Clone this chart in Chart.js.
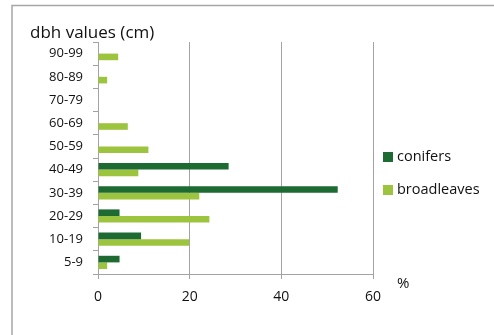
<!DOCTYPE html>
<html>
<head>
<meta charset="utf-8">
<title>dbh distribution</title>
<script src="https://cdn.jsdelivr.net/npm/chart.js"></script>
<style>
  html, body { margin: 0; padding: 0; background: #fff; }
  #wrap { position: relative; width: 494px; height: 335px; }
</style>
</head>
<body>
<div id="wrap"><canvas id="dbhChart" width="494" height="335"></canvas></div>
<script>
// dbh classes, listed top to bottom
const dbhClasses = ['90-99', '80-89', '70-79', '60-69', '50-59', '40-49', '30-39', '20-29', '10-19', '5-9'];
// share of trees (%) per class
const conifers    = [0, 0, 0, 0, 0, 28.5, 52.3, 4.7, 9.4, 4.7];
const broadleaves = [4.4, 2.0, 0, 6.5, 11.0, 8.8, 22.1, 24.3, 19.9, 2.0];
const xTicks = [0, 20, 40, 60];

const darkGreen = '#1d6a32';
const lightGreen = '#9dc43f';
const gridGrey = '#a3a3a3';
const textColor = '#111';
const fontFamily = '"Open Sans", sans-serif';

// frame, axis captions and legend drawn around the plot
const decorations = {
  id: 'decorations',
  afterDraw(chart) {
    const ctx = chart.ctx;
    ctx.save();
    ctx.strokeStyle = '#a6a6a6';
    ctx.lineWidth = 1.5;
    ctx.beginPath();
    ctx.moveTo(12, 340);
    ctx.lineTo(12, 5.5);
    ctx.lineTo(500, 5.5);
    ctx.stroke();

    ctx.fillStyle = textColor;
    ctx.textBaseline = 'middle';
    ctx.textAlign = 'left';
    ctx.font = '17px ' + fontFamily;
    ctx.fillText('dbh values (cm)', 30, 33);
    ctx.font = '15px ' + fontFamily;
    ctx.fillText('%', 397, 284);

    ctx.font = '14.5px ' + fontFamily;
    chart.data.datasets.forEach((ds, i) => {
      const y = 157 + i * 33;
      ctx.fillStyle = ds.backgroundColor;
      ctx.fillRect(383, y - 5, 10, 10);
      ctx.fillStyle = textColor;
      ctx.fillText(ds.label, 397, y);
    });
    ctx.restore();
  }
};

new Chart(document.getElementById('dbhChart'), {
  type: 'bar',
  data: {
    labels: dbhClasses,
    datasets: [
      { label: 'conifers', data: conifers, backgroundColor: darkGreen },
      { label: 'broadleaves', data: broadleaves, backgroundColor: lightGreen }
    ]
  },
  options: {
    indexAxis: 'y',
    responsive: false,
    animation: false,
    layout: { padding: { left: 0, right: 121, top: 42, bottom: 0 } },
    datasets: { bar: { categoryPercentage: 0.57, barPercentage: 1.0 } },
    plugins: {
      legend: { display: false },
      tooltip: { enabled: false }
    },
    scales: {
      x: {
        min: 0,
        max: 60,
        afterBuildTicks: (scale) => { scale.ticks = xTicks.map(v => ({ value: v })); },
        afterFit: (scale) => { scale.height = 61; },
        grid: { color: gridGrey, lineWidth: 1, tickLength: 5 },
        border: { color: gridGrey, width: 1 },
        ticks: { color: textColor, font: { family: fontFamily, size: 14 }, padding: 10 }
      },
      y: {
        afterFit: (scale) => { scale.width = 98; },
        grid: { drawOnChartArea: false, color: gridGrey, tickLength: 5, offset: true },
        border: { color: gridGrey, width: 1 },
        ticks: { color: textColor, font: { family: fontFamily, size: 13 }, padding: 10 }
      }
    }
  },
  plugins: [decorations]
});
</script>
</body>
</html>
